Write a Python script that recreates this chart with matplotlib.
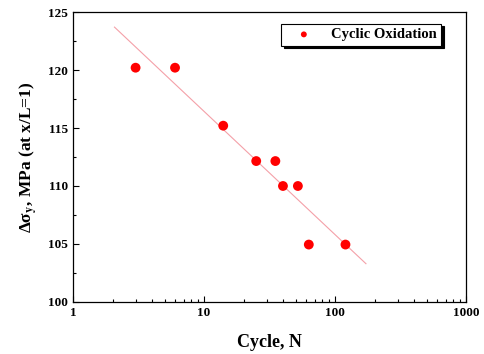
import numpy as np
import matplotlib.pyplot as plt
from matplotlib.ticker import MultipleLocator, LogLocator, NullFormatter

plt.rcParams['font.family'] = ['Liberation Serif', 'DejaVu Serif']
plt.rcParams['font.weight'] = 'bold'
plt.rcParams['mathtext.fontset'] = 'stix'

# data
cycles = [3, 6, 14, 25, 35, 40, 52, 63, 120]
delta_sigma = [120.2, 120.2, 115.2, 112.15, 112.15, 110.0, 110.0, 104.95, 104.95]

# fitted line endpoints
fit_x = [2.07, 172]
fit_y = [123.7, 103.3]

fig = plt.figure(figsize=(4.84, 3.54), dpi=100)
ax = fig.add_axes([0.151, 0.147, 0.812, 0.819])

ax.plot(fit_x, fit_y, color='#f4a0a8', lw=0.8, zorder=1)
ax.scatter(cycles, delta_sigma, s=50, color='#ff0000', edgecolors='none',
           zorder=3, label='Cyclic Oxidation')

ax.set_xscale('log')
ax.set_xlim(1, 1000)
ax.set_ylim(100, 125)
ax.yaxis.set_major_locator(MultipleLocator(5))
ax.yaxis.set_minor_locator(MultipleLocator(2.5))
ax.xaxis.set_major_locator(LogLocator(base=10))
ax.xaxis.set_minor_locator(LogLocator(base=10, subs=np.arange(2, 10)))
ax.xaxis.set_minor_formatter(NullFormatter())
ax.set_xticks([1, 10, 100, 1000])
ax.set_xticklabels(['1', '10', '100', '1000'])

ax.tick_params(which='both', direction='in', top=False, right=False,
               labelsize=9.5, width=0.8)
ax.tick_params(which='major', length=4.5)
ax.tick_params(which='minor', length=2.5)
for sp in ax.spines.values():
    sp.set_linewidth(0.9)

ax.set_xlabel('Cycle, N', fontsize=13, fontweight='bold', labelpad=11)
ax.set_ylabel(r'Δσ$_\mathbf{y}$, MPa (at x/L=1)', fontsize=12.5,
              fontweight='bold', labelpad=6)

leg = ax.legend(loc='upper right', bbox_to_anchor=(0.936, 0.96), numpoints=1,
                fancybox=False, edgecolor='black', framealpha=1,
                shadow={'color': 'black', 'alpha': 1}, borderaxespad=0,
                prop={'weight': 'bold', 'size': 10.5},
                handletextpad=0.6, borderpad=0.3, handlelength=2.5,
                markerscale=0.6)
leg.get_frame().set_linewidth(0.8)

fig.savefig('out.png', dpi=100)
